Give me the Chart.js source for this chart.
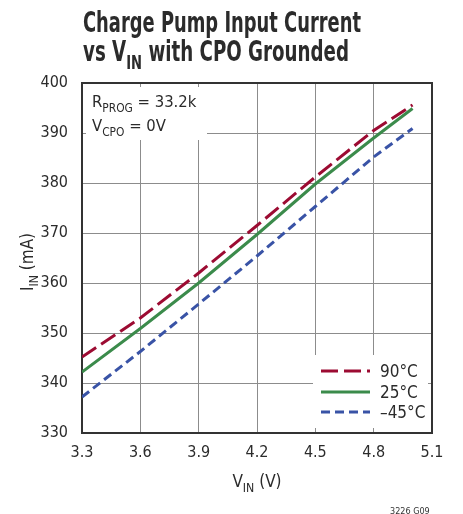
<!DOCTYPE html>
<html>
<head>
<meta charset="utf-8">
<script src="https://cdn.jsdelivr.net/npm/chart.js@4.4.1/dist/chart.umd.min.js"></script>
<style>
  html, body { margin: 0; padding: 0; background: #fff; }
  #wrap { position: relative; width: 463px; height: 514px; }
</style>
</head>
<body>
<div id="wrap"><canvas id="c"></canvas></div>
<script>
// ---- data ----
const vin = [3.3, 3.6, 3.9, 4.2, 4.5, 4.8, 5.0];
const i90 = [345.2, 353, 362, 371.5, 381.2, 390.5, 395.6];
const i25 = [342.2, 350.9, 360, 369.7, 379.8, 389, 394.9];
const im45 = [337.2, 346.3, 355.8, 365.4, 375.3, 385.2, 390.9];
const seriesLabels = ['90°C', '25°C', '\u201345°C'];
const xTicks = [3.3, 3.6, 3.9, 4.2, 4.5, 4.8, 5.1];
const yTicks = [330, 340, 350, 360, 370, 380, 390, 400];

const FONT = "'Liberation Sans Narrow', 'DejaVu Sans Condensed', 'Roboto Condensed', sans-serif";
const TXT = '#2b2b2b';
const RED = '#9c0b32', GREEN = '#3b8b4b', BLUE = '#3953a6';

function pts(ys) { return vin.map((x, i) => ({ x: x, y: ys[i] })); }

function richWidth(ctx, parts, size, bold) {
  let w = 0;
  parts.forEach(p => {
    const s = p.sub ? size * 0.72 : size;
    ctx.font = (bold ? 'bold ' : '') + s + 'px ' + FONT;
    w += ctx.measureText(p.t).width;
  });
  return w;
}
function drawRich(ctx, parts, x, y, size, bold, targetW) {
  ctx.save();
  const nat = richWidth(ctx, parts, size, bold);
  const sx = targetW ? targetW / nat : 1;
  ctx.translate(x, y);
  ctx.scale(sx, 1);
  let cx = 0;
  ctx.textBaseline = 'alphabetic';
  ctx.textAlign = 'left';
  ctx.fillStyle = TXT;
  parts.forEach(p => {
    const s = p.sub ? size * 0.72 : size;
    ctx.font = (bold ? 'bold ' : '') + s + 'px ' + FONT;
    ctx.fillText(p.t, cx, p.sub ? size * 0.28 : 0);
    cx += ctx.measureText(p.t).width;
  });
  ctx.restore();
}

const deco = {
  id: 'deco',
  beforeDatasetsDraw(chart) {
    const ctx = chart.ctx, a = chart.chartArea;
    ctx.save();
    ctx.fillStyle = '#fff';
    ctx.fillRect(86, 87, 121, 53);
    ctx.fillRect(313, 355, 115, 73);
    ctx.strokeStyle = '#333';
    ctx.lineWidth = 2;
    ctx.strokeRect(a.left, a.top, a.right - a.left, a.bottom - a.top);
    ctx.restore();
  },
  afterDraw(chart) {
    const ctx = chart.ctx, a = chart.chartArea;
    // title
    drawRich(ctx, [{ t: 'Charge Pump Input Current' }], 83, 32, 28, true, 278);
    drawRich(ctx, [{ t: 'vs V' }, { t: 'IN', sub: true }, { t: ' with CPO Grounded' }], 83, 61, 28, true, 266);
    // annotation
    drawRich(ctx, [{ t: 'R' }, { t: 'PROG', sub: true }, { t: ' = 33.2k' }], 92, 107, 16.5, false);
    drawRich(ctx, [{ t: 'V' }, { t: 'CPO', sub: true }, { t: ' = 0V' }], 92, 131, 16.5, false);
    // axis titles
    const xt = [{ t: 'V' }, { t: 'IN', sub: true }, { t: ' (V)' }];
    const xw = richWidth(ctx, xt, 17, false);
    drawRich(ctx, xt, (a.left + a.right) / 2 - xw / 2, 487, 17, false);
    const yt = [{ t: 'I' }, { t: 'IN', sub: true }, { t: ' (mA)' }];
    const yw = richWidth(ctx, yt, 17, false);
    ctx.save();
    ctx.translate(33, 262);
    ctx.rotate(-Math.PI / 2);
    drawRich(ctx, yt, -yw / 2, 0, 17, false);
    ctx.restore();
    // legend
    const cols = [RED, GREEN, BLUE];
    const dashes = [[17, 6], [], [9, 5]];
    const ly = [371, 392, 412];
    for (let i = 0; i < 3; i++) {
      ctx.save();
      ctx.strokeStyle = cols[i];
      ctx.lineWidth = 3;
      ctx.setLineDash(dashes[i]);
      ctx.beginPath();
      ctx.moveTo(321, ly[i]);
      ctx.lineTo(370, ly[i]);
      ctx.stroke();
      ctx.restore();
      drawRich(ctx, [{ t: seriesLabels[i] }], 380, ly[i] + 6, 17, false);
    }
    // footnote
    ctx.save();
    ctx.font = '9px ' + FONT;
    ctx.fillStyle = '#333';
    ctx.textAlign = 'left';
    ctx.fillText('3226 G09', 390, 514);
    ctx.restore();
  }
};

new Chart(document.getElementById('c'), {
  type: 'scatter',
  data: {
    datasets: [
      { label: seriesLabels[0], data: pts(i90), showLine: true, borderColor: RED, borderWidth: 3, borderDash: [17, 6], pointRadius: 0, tension: 0 },
      { label: seriesLabels[1], data: pts(i25), showLine: true, borderColor: GREEN, borderWidth: 3, pointRadius: 0, tension: 0 },
      { label: seriesLabels[2], data: pts(im45), showLine: true, borderColor: BLUE, borderWidth: 3, borderDash: [9, 5], pointRadius: 0, tension: 0 }
    ]
  },
  options: {
    responsive: true,
    maintainAspectRatio: false,
    animation: false,
    devicePixelRatio: 1,
    layout: { padding: { top: 83, right: 31, left: 0, bottom: 0 } },
    plugins: { legend: { display: false }, tooltip: { enabled: false } },
    scales: {
      x: {
        type: 'linear', min: 3.3, max: 5.1,
        afterBuildTicks: s => { s.ticks = xTicks.map(v => ({ value: v })); },
        afterFit: s => { s.height = 81; },
        ticks: { callback: v => Number(v).toFixed(1), font: { family: FONT, size: 16 }, color: TXT, padding: 10, maxRotation: 0 },
        grid: { color: '#8c8c8c', lineWidth: 1, drawTicks: false },
        border: { color: '#333', width: 2 }
      },
      y: {
        min: 330, max: 400,
        afterBuildTicks: s => { s.ticks = yTicks.map(v => ({ value: v })); },
        afterFit: s => { s.width = 82; },
        ticks: { font: { family: FONT, size: 16 }, color: TXT, padding: 14 },
        grid: { color: '#8c8c8c', lineWidth: 1, drawTicks: false },
        border: { color: '#333', width: 2 }
      }
    }
  },
  plugins: [deco]
});
</script>
</body>
</html>
